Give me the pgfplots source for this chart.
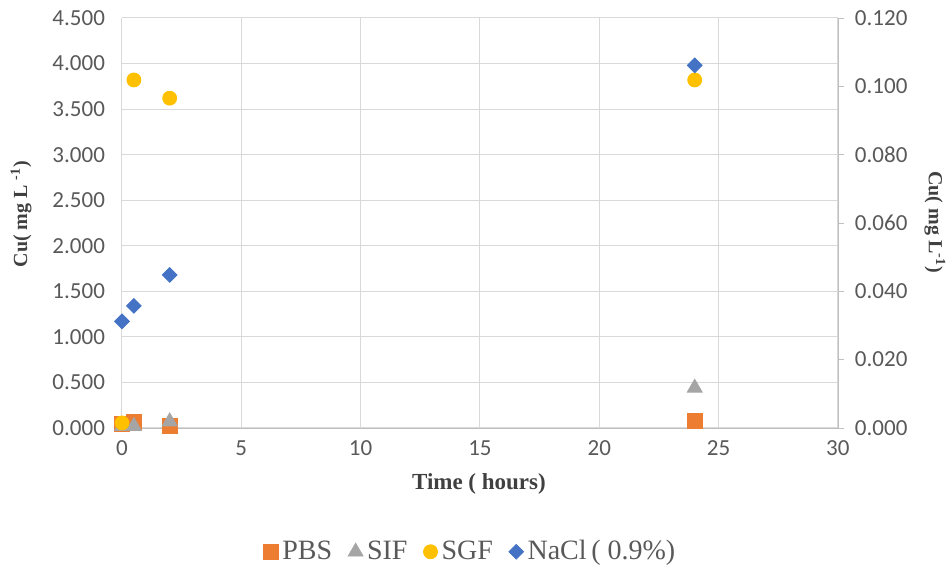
\documentclass[border=0pt]{standalone}
\usepackage{pgfplots}
\pgfplotsset{compat=1.18}
\usepackage{fontspec}
\setmainfont{Liberation Serif}
\newfontfamily\tickfont{Carlito}
\definecolor{cPBS}{HTML}{ED7D31}
\definecolor{cSIF}{HTML}{A5A5A5}
\definecolor{cSGF}{HTML}{FFC000}
\definecolor{cNaCl}{HTML}{4472C4}
\definecolor{tickgray}{HTML}{595959}
\definecolor{gridgray}{HTML}{D9D9D9}
\definecolor{axgray}{HTML}{BFBFBF}
\definecolor{labgray}{HTML}{404040}
\begin{document}
\begin{tikzpicture}
\begin{axis}[
  at={(0,0)}, anchor=south west,
  scale only axis, width=358pt, height=205pt,
  xmin=0, xmax=30, ymin=0, ymax=4.5,
  xtick={0,5,...,30}, ytick={0,0.5,...,4.5},
  axis x line*=bottom, axis y line*=left,
  x axis line style={draw=axgray, -},
  y axis line style={draw=none},
  major tick length=0pt,
  grid=major, grid style={draw=gridgray, line width=0.5pt},
  clip=false,
  /pgf/number format/assume math mode=true,
  ticklabel style={font=\tickfont\fontsize{11.5}{13}\selectfont, text=tickgray},
  yticklabel style={/pgf/number format/fixed, /pgf/number format/fixed zerofill, /pgf/number format/precision=3, xshift=-5pt},
  xticklabel style={yshift=-3pt},
  legend columns=4,
  legend style={at={(0.488,-0.302)}, anchor=center, draw=none, fill=none,
    font=\fontsize{14}{16}\selectfont, text=tickgray,
    /tikz/every even column/.append style={column sep=6pt},
    inner sep=0pt},
  legend cell align=left,
]
\addplot[only marks, mark=square*, mark size=3.75pt, color=cPBS]
  coordinates {(0,0.045) (0.5,0.065) (2,0.02) (24,0.08)};
\addlegendentry{PBS}
\addplot[only marks, mark=triangle*, mark size=4.3pt, color=cSIF]
  coordinates {(0,0.02) (0.5,0.02) (2,0.07) (24,0.44)};
\addlegendentry{SIF}
\addplot[only marks, mark=*, mark size=3.5pt, color=cSGF]
  coordinates {(0,0.055) (0.5,3.82) (2,3.62) (24,3.82)};
\addlegendentry{SGF}
\addplot[only marks, mark=square*, mark size=2.6pt, mark options={rotate=45}, color=cNaCl]
  coordinates {(0,1.17) (0.5,1.34) (2,1.68) (24,3.98)};
\addlegendentry{NaCl\,( 0.9\%)}
\end{axis}
\begin{axis}[
  at={(0,0)}, anchor=south west,
  scale only axis, width=358pt, height=205pt,
  xmin=0, xmax=30, ymin=0, ymax=0.12,
  ytick={0,0.02,0.04,0.06,0.08,0.1,0.12},
  axis x line=none, axis y line*=right,
  y axis line style={draw=axgray, -},
  tick style={draw=axgray},
  tick align=outside, major tick length=3pt,
  /pgf/number format/assume math mode=true,
  ticklabel style={font=\tickfont\fontsize{11.5}{13}\selectfont, text=tickgray},
  yticklabel style={/pgf/number format/fixed, /pgf/number format/fixed zerofill, /pgf/number format/precision=3, xshift=2pt},
]
\end{axis}
\node[font=\bfseries\fontsize{11.5}{13}\selectfont, text=labgray] at (178.5pt,-28pt) {Time ( hours)};
\node[font=\bfseries\fontsize{10}{12}\selectfont, text=labgray, rotate=90] at (-50.5pt,107pt) {Cu( mg L \textsuperscript{-1})};
\node[font=\bfseries\fontsize{10}{12}\selectfont, text=labgray, rotate=-90] at (406.5pt,103pt) {Cu( mg L\textsuperscript{-1})};
\path[use as bounding box] (-61pt,-74.5pt) rectangle (415pt,214pt);
\end{tikzpicture}
\end{document}
